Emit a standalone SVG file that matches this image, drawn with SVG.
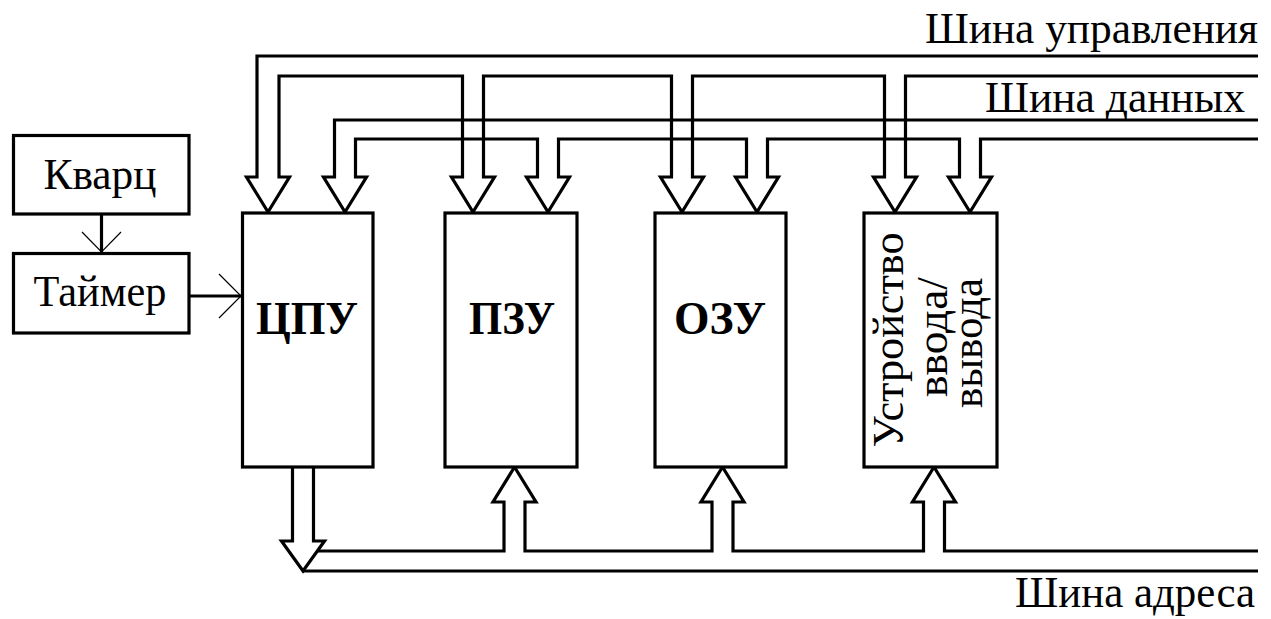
<svg xmlns="http://www.w3.org/2000/svg" width="1271" height="619" viewBox="0 0 1271 619">
<style>
.ln{fill:none;stroke:#000;stroke-width:3.2;stroke-linejoin:miter;stroke-miterlimit:10}
.box{fill:#fff;stroke:#000;stroke-width:3.2}
.thin{fill:none;stroke:#000;stroke-width:1.2}
.t{font-family:"Liberation Serif","Times New Roman",serif;font-size:44px;fill:#000}
.b{font-weight:bold;font-size:46px}
</style>
<rect width="1271" height="619" fill="#fff"/>
<g id="connectors">
  <path id="control-bus" class="ln" d="M1258,56 H257 V177 H246.5 L268,212 L289.5,177 H279 V76 H462.5 V177 H451.5 L473,212 L494.5,177 H483.5 V76 H671.5 V177 H660.5 L682,212 L703.5,177 H692.5 V76 H884.5 V177 H873.5 L895,212 L916.5,177 H905.5 V76 H1258"/>
  <path id="data-bus" class="ln" d="M1258,120 H334.5 V177 H323.5 L345,212 L366.5,177 H355.5 V139 H537.5 V177 H526.5 L548,212 L569.5,177 H558.5 V139 H746.5 V177 H735.5 L757,212 L778.5,177 H767.5 V139 H959.5 V177 H948.5 L970,212 L991.5,177 H980.5 V139 H1258"/>
  <path id="cpu-to-address" class="ln" d="M292.5,467 V541 H281.5 L303,571 L324.5,541 H313.5 V467"/>
  <path id="address-bus-bottom" class="ln" d="M303,571 H1258"/>
  <path id="address-bus-top" class="ln" d="M317.3,551 H504 V502 H493 L514.5,467 L536,502 H525 V551 H712 V502 H701 L722.5,467 L744,502 H733 V551 H923.5 V502 H912.5 L934,467 L955.5,502 H944.5 V551 H1258"/>
  <path id="quartz-to-timer" class="ln" d="M101.5,214 V252"/>
  <path class="thin" d="M82,232 L101.5,252 L121,232"/>
  <path id="timer-to-cpu" class="ln" d="M189,296 H241"/>
  <path class="thin" d="M219,274 L241,296 L219,318"/>
</g>
<g id="quartz">
  <rect class="box" x="13.5" y="135.5" width="175.5" height="78.5"/>
  <text class="t" x="100" y="189" text-anchor="middle" textLength="113" lengthAdjust="spacingAndGlyphs">Кварц</text>
</g>
<g id="timer">
  <rect class="box" x="13.5" y="253.5" width="175.5" height="79.5"/>
  <text class="t" x="100" y="306" text-anchor="middle" textLength="133" lengthAdjust="spacingAndGlyphs">Таймер</text>
</g>
<g id="cpu">
  <rect class="box" x="242.5" y="213" width="130.5" height="254"/>
  <text class="t b" x="307" y="334" text-anchor="middle" textLength="102" lengthAdjust="spacingAndGlyphs">ЦПУ</text>
</g>
<g id="rom">
  <rect class="box" x="445" y="213" width="132" height="254"/>
  <text class="t b" x="512" y="334" text-anchor="middle" textLength="86" lengthAdjust="spacingAndGlyphs">ПЗУ</text>
</g>
<g id="ram">
  <rect class="box" x="655" y="213" width="131" height="254"/>
  <text class="t b" x="720" y="334" text-anchor="middle" textLength="92" lengthAdjust="spacingAndGlyphs">ОЗУ</text>
</g>
<g id="io">
  <rect class="box" x="864" y="213" width="133" height="254"/>
  <text class="t" transform="translate(903,340) rotate(-90)" text-anchor="middle" textLength="215" lengthAdjust="spacingAndGlyphs">Устройство</text>
  <text class="t" transform="translate(947,337) rotate(-90)" text-anchor="middle" textLength="120" lengthAdjust="spacingAndGlyphs">ввода/</text>
  <text class="t" transform="translate(982,343) rotate(-90)" text-anchor="middle" textLength="130" lengthAdjust="spacingAndGlyphs">вывода</text>
</g>
<g id="labels">
  <text class="t" x="1258" y="43" text-anchor="end" textLength="333" lengthAdjust="spacingAndGlyphs">Шина управления</text>
  <text class="t" x="1245" y="112" text-anchor="end" textLength="260" lengthAdjust="spacingAndGlyphs">Шина данных</text>
  <text class="t" x="1255" y="607" text-anchor="end" textLength="240" lengthAdjust="spacingAndGlyphs">Шина адреса</text>
</g>
</svg>
